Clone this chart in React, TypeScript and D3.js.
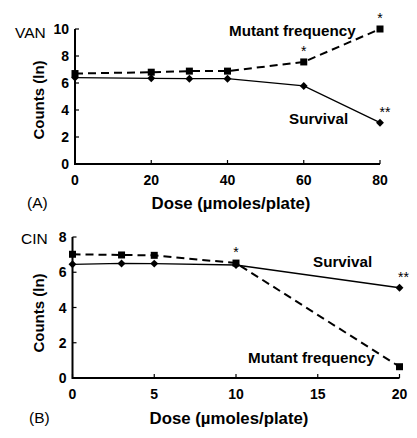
import React from "react";
import * as d3 from "d3";

const doseA = [0, 20, 30, 40, 60, 80];
const mutantA = [6.7, 6.8, 6.88, 6.88, 7.56, 10.0];
const survivalA = [6.4, 6.35, 6.32, 6.32, 5.78, 3.06];
const xTicksA = [0, 20, 40, 60, 80];
const yTicksA = [0, 2, 4, 6, 8, 10];

const doseB = [0, 3, 5, 10, 20];
const mutantB = [7.02, 6.98, 6.96, 6.52, 0.64];
const survivalB = [6.45, 6.5, 6.49, 6.41, 5.12];
const xTicksB = [0, 5, 10, 15, 20];
const yTicksB = [0, 2, 4, 6, 8];

const FONT = "'Liberation Sans', Arial, sans-serif";

type PanelProps = {
  dose: number[];
  mutant: number[];
  survival: number[];
  xTicks: number[];
  yTicks: number[];
  xRange: [number, number];
  yRange: [number, number];
  xMax: number;
  yMax: number;
};

function Panel({ dose, mutant, survival, xTicks, yTicks, xRange, yRange, xMax, yMax }: PanelProps) {
  const x = d3.scaleLinear().domain([0, xMax]).range(xRange);
  const y = d3.scaleLinear().domain([0, yMax]).range(yRange);
  const line = d3
    .line<[number, number]>()
    .x((d) => x(d[0]))
    .y((d) => y(d[1]));
  const mPts = dose.map((d, i) => [d, mutant[i]] as [number, number]);
  const sPts = dose.map((d, i) => [d, survival[i]] as [number, number]);
  const x0 = x(0);
  const y0 = y(0);
  return (
    <g>
      <line x1={x0} x2={x(xMax)} y1={y0} y2={y0} stroke="#000" strokeWidth={2} />
      <line x1={x0} x2={x0} y1={y0 + 1} y2={y(yMax)} stroke="#000" strokeWidth={2} />
      {yTicks.map((t) => (
        <g key={"y" + t}>
          <line x1={x0} x2={x0 + 4} y1={y(t)} y2={y(t)} stroke="#000" strokeWidth={1.2} />
          <text x={x0 - 6} y={y(t)} textAnchor="end" dominantBaseline="central" fontSize={14} fontWeight="bold" fontFamily={FONT}>
            {t}
          </text>
        </g>
      ))}
      {xTicks.map((t) => (
        <g key={"x" + t}>
          <line x1={x(t)} x2={x(t)} y1={y0} y2={y0 - 4} stroke="#000" strokeWidth={1.2} />
          <text x={x(t)} y={y0 + 16} textAnchor="middle" dominantBaseline="central" fontSize={14} fontWeight="bold" fontFamily={FONT}>
            {t}
          </text>
        </g>
      ))}
      <path d={line(sPts) || ""} fill="none" stroke="#000" strokeWidth={1.3} />
      <path d={line(mPts) || ""} fill="none" stroke="#000" strokeWidth={2} strokeDasharray="8,5" />
      {sPts.map((p, i) => (
        <rect key={"s" + i} x={-2.8} y={-2.8} width={5.6} height={5.6} fill="#000" transform={`translate(${x(p[0])},${y(p[1])}) rotate(45)`} />
      ))}
      {mPts.map((p, i) => (
        <rect key={"m" + i} x={x(p[0]) - 3.5} y={y(p[1]) - 3.5} width={7} height={7} fill="#000" />
      ))}
    </g>
  );
}

export default function App() {
  const xA = d3.scaleLinear().domain([0, 80]).range([75, 380]);
  const yA = d3.scaleLinear().domain([0, 10]).range([164, 29]);
  const xB = d3.scaleLinear().domain([0, 20]).range([72.5, 399.5]);
  const yB = d3.scaleLinear().domain([0, 8]).range([378, 237]);
  const lab = { fontFamily: FONT, fontWeight: "bold" as const };
  return (
    <svg width={417} height={438} style={{ position: "absolute", left: 0, top: 0, background: "#fff" }}>
      <rect width={417} height={438} fill="#fff" />
      <Panel dose={doseA} mutant={mutantA} survival={survivalA} xTicks={xTicksA} yTicks={yTicksA} xRange={[75, 380]} yRange={[164, 29]} xMax={80} yMax={10} />
      <Panel dose={doseB} mutant={mutantB} survival={survivalB} xTicks={xTicksB} yTicks={yTicksB} xRange={[72.5, 399.5]} yRange={[378, 237]} xMax={20} yMax={8} />

      <text x={15} y={32} dominantBaseline="central" fontSize={15.5} fontFamily={FONT}>VAN</text>
      <text x={27} y={202} dominantBaseline="central" fontSize={15.5} fontFamily={FONT}>(A)</text>
      <text x={231} y={203} textAnchor="middle" dominantBaseline="central" fontSize={16.8} {...lab}>Dose (µmoles/plate)</text>
      <text transform="translate(38,100) rotate(-90)" textAnchor="middle" dominantBaseline="central" fontSize={15} {...lab}>Counts (ln)</text>
      <text x={229} y={30} dominantBaseline="central" fontSize={15.2} {...lab}>Mutant frequency</text>
      <text x={289} y={118} dominantBaseline="central" fontSize={15.2} {...lab}>Survival</text>
      <text x={xA(60)} y={yA(mutantA[4]) - 6} textAnchor="middle" fontSize={14} fontFamily={FONT}>*</text>
      <text x={xA(80)} y={yA(mutantA[5]) - 6} textAnchor="middle" fontSize={14} fontFamily={FONT}>*</text>
      <text x={xA(80) + 5} y={yA(survivalA[5]) - 6} textAnchor="middle" fontSize={14} fontFamily={FONT}>**</text>

      <text x={21} y={238} dominantBaseline="central" fontSize={15.5} fontFamily={FONT}>CIN</text>
      <text x={29} y={417} dominantBaseline="central" fontSize={15.5} fontFamily={FONT}>(B)</text>
      <text x={229} y={418} textAnchor="middle" dominantBaseline="central" fontSize={16.8} {...lab}>Dose (µmoles/plate)</text>
      <text transform="translate(38,313) rotate(-90)" textAnchor="middle" dominantBaseline="central" fontSize={15} {...lab}>Counts (ln)</text>
      <text x={313} y={261} dominantBaseline="central" fontSize={15.2} {...lab}>Survival</text>
      <text x={248} y={357} dominantBaseline="central" fontSize={15.2} {...lab}>Mutant frequency</text>
      <text x={xB(10)} y={yB(mutantB[3]) - 6} textAnchor="middle" fontSize={14} fontFamily={FONT}>*</text>
      <text x={xB(20) + 4} y={yB(survivalB[4]) - 6} textAnchor="middle" fontSize={14} fontFamily={FONT}>**</text>
    </svg>
  );
}
